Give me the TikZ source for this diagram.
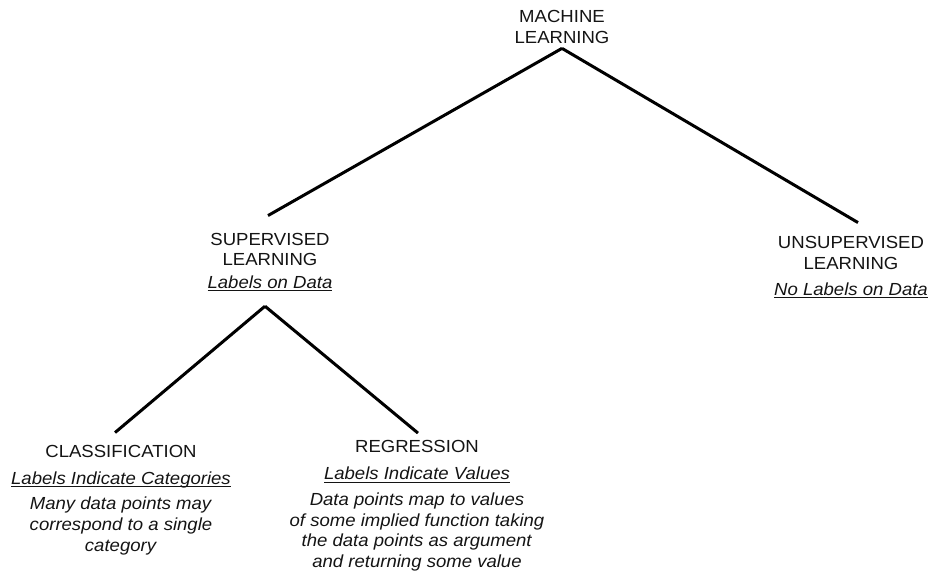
\documentclass[tikz,border=0pt]{standalone}
\usepackage{fontspec}
\setmainfont[FakeStretch=1.06]{Liberation Sans}
\usetikzlibrary{calc}
\newsavebox{\ulbox}
\newcommand{\sub}[1]{\sbox{\ulbox}{\textit{#1}}\rlap{\rule[-3pt]{\wd\ulbox}{0.9pt}}\usebox{\ulbox}}
\begin{document}
\begin{tikzpicture}[x=1pt,y=-1pt,
  lbl/.style={align=center,inner sep=0pt,anchor=base,text=black!92,
    font=\fontsize{17.5}{21}\selectfont},
  link/.style={line width=3pt,black}]
\useasboundingbox (0,0) rectangle (930,575);
\node[lbl] (ml) at (562,44) {MACHINE\\LEARNING};
\node[lbl] (sup) at (270,288) {SUPERVISED\\[-1pt]LEARNING\\[2pt]\sub{Labels on Data}};
\node[lbl] (uns) at (851,295) {UNSUPERVISED\\LEARNING\\[5pt]\sub{No Labels on Data}};
\node[lbl] (cls) at (121,551) {CLASSIFICATION\\[6pt]\sub{Labels Indicate Categories}\\[4pt]
  \textit{Many data points may}\\\textit{correspond to a single}\\\textit{category}};
\node[lbl] (reg) at (417,567) {REGRESSION\\[6pt]\sub{Labels Indicate Values}\\[5pt]
  \textit{Data points map to values}\\[-0.5pt]\textit{of some implied function taking}\\[-0.5pt]
  \textit{the data points as argument}\\[-0.5pt]\textit{and returning some value}};
\coordinate (mlb) at ($(ml.south)+(0,4)$);
\coordinate (supt) at ($(sup.north)+(-2,-17)$);
\coordinate (unst) at ($(uns.north)+(7,-13)$);
\coordinate (supb) at ($(sup.south)+(-5,15)$);
\coordinate (clst) at ($(cls.north)+(-6,-12)$);
\coordinate (regt) at ($(reg.north)+(1,-7)$);
\draw[link] (mlb) -- (supt);
\draw[link] (mlb) -- (unst);
\draw[link] (supb) -- (clst);
\draw[link] (supb) -- (regt);
\end{tikzpicture}
\end{document}
